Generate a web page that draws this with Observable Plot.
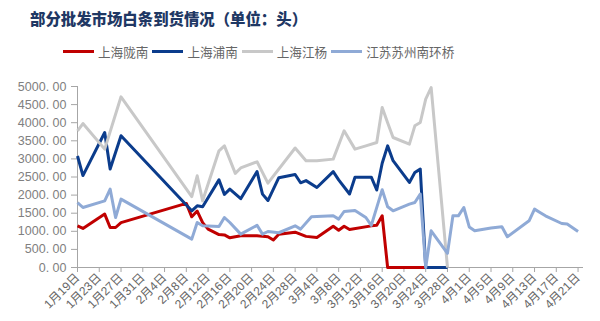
<!DOCTYPE html>
<html>
<head>
<meta charset="utf-8">
<script src="https://cdn.jsdelivr.net/npm/d3@7"></script>
<script src="https://cdn.jsdelivr.net/npm/@observablehq/plot@0.6"></script>
<style>
  body { margin: 0; background: #fff; }
  #wrap { width: 600px; height: 321px; position: relative; overflow: hidden; background: #fff; }
  #title { position: absolute; left: 30px; top: 7px; font-family: "Noto Sans CJK SC", sans-serif; font-size: 15.4px; font-weight: 900; color: #1f3864; white-space: nowrap; }
  #legend { position: absolute; left: 63px; top: 42px; height: 18px; display: flex; align-items: center; font-family: "Noto Sans CJK SC", sans-serif; font-size: 12.6px; color: #666; white-space: nowrap; }
  .item { display: flex; align-items: center; margin-right: 4px; }
  .sw { width: 31px; height: 3px; margin-right: 4px; }
  #chart { position: absolute; left: 0; top: 66px; }
</style>
</head>
<body>
<div id="wrap">
  <div id="title">部分批发市场白条到货情况（单位：头）</div>
  <div id="legend"></div>
  <div id="chart"></div>
</div>
<script>
// ---- data (year 2022, dates as MM-DD) ----
const seriesNames = ["上海陇南", "上海浦南", "上海江杨", "江苏苏州南环桥"];
const seriesColors = ["#c00000", "#0b3c8c", "#c8c8c8", "#8faad6"];

const longnanDates = ["01-19","01-20","01-24","01-25","01-26","01-27","02-08","02-09","02-10","02-11","02-12","02-14","02-15","02-16","02-18","02-21","02-22","02-23","02-24","02-25","02-28","03-02","03-04","03-07","03-08","03-09","03-10","03-14","03-15","03-16","03-17","03-24"];
const longnanValues = [1150,1080,1475,1105,1105,1240,1770,1400,1560,1240,1060,910,900,820,875,875,860,850,760,920,975,860,830,1140,1030,1140,1050,1150,1170,1430,0,0];

const punanDates = ["01-19","01-20","01-24","01-25","01-27","02-09","02-10","02-11","02-14","02-15","02-16","02-18","02-21","02-22","02-23","02-25","02-28","03-01","03-02","03-04","03-07","03-08","03-10","03-11","03-14","03-15","03-16","03-17","03-18","03-21","03-22","03-23","03-24","03-28"];
const punanValues = [3080,2540,3730,2720,3640,1566,1704,1676,2420,2020,2165,1900,2650,2027,1850,2480,2570,2340,2400,2210,2650,2420,2030,2495,2495,2140,2880,3360,2950,2350,2624,2718,0,0];

const jiangyangDates = ["01-19","01-20","01-24","01-27","02-09","02-10","02-11","02-14","02-15","02-17","02-18","02-21","02-23","02-28","03-02","03-04","03-07","03-09","03-11","03-13","03-15","03-16","03-17","03-18","03-21","03-22","03-23","03-24","03-25","03-28"];
const jiangyangValues = [3776,3977,3270,4715,1960,2533,1842,3223,3361,2600,2750,2920,2330,3300,2950,2947,2994,3776,3270,3361,3453,4420,4000,3591,3408,3914,4005,4651,4972,0];

const nanhuanqiaoDates = ["01-19","01-20","01-24","01-25","01-26","01-27","02-09","02-10","02-11","02-14","02-15","02-16","02-18","02-21","02-22","02-23","02-25","02-28","03-01","03-03","03-07","03-08","03-09","03-11","03-13","03-14","03-16","03-17","03-18","03-21","03-22","03-23","03-24","03-25","03-28","03-29","03-30","03-31","04-01","04-02","04-05","04-07","04-08","04-12","04-13","04-14","04-15","04-18","04-19","04-21"];
const nanhuanqiaoValues = [1795,1657,1842,2165,1381,1889,784,1243,1152,1130,1381,1243,922,1165,922,994,960,1152,1060,1400,1428,1336,1547,1575,1381,1165,2150,1680,1566,1751,1795,2027,0,1013,390,1428,1428,1657,1120,1013,1090,1124,848,1290,1613,1519,1428,1215,1199,994];

const yTicks = [0,500,1000,1500,2000,2500,3000,3500,4000,4500,5000];
const axisStart = "01-19", axisEnd = "04-22", tickStepDays = 4;

// ---- build ----
const toDate = s => new Date("2022-" + s + "T00:00:00Z");
const seriesDates = [longnanDates, punanDates, jiangyangDates, nanhuanqiaoDates];
const seriesValues = [longnanValues, punanValues, jiangyangValues, nanhuanqiaoValues];
const data = seriesNames.flatMap((name, k) =>
  seriesDates[k].map((d, i) => ({name, date: toDate(d), value: seriesValues[k][i]})));

const start = toDate(axisStart), end = toDate(axisEnd);
const xTicks = [];
for (let t = start.getTime(); t <= end.getTime(); t += tickStepDays * 86400000) xTicks.push(new Date(t));

// legend
const legend = document.getElementById("legend");
seriesNames.forEach((n, i) => {
  const it = document.createElement("div");
  it.className = "item";
  it.innerHTML = `<span class="sw" style="background:${seriesColors[i]}"></span><span>${n}</span>`;
  legend.appendChild(it);
});

const axisColor = "#a6a6a6";
const chart = Plot.plot({
  width: 600,
  height: 255,
  marginTop: 20,
  marginBottom: 54,
  marginLeft: 77,
  marginRight: 17,
  style: {background: "white", fontFamily: "'Liberation Sans', Arial, sans-serif", fontSize: "12px", color: "#7f7f7f"},
  x: {type: "utc", domain: [start, end], label: null},
  y: {domain: [0, 5000], label: null},
  color: {domain: seriesNames, range: seriesColors},
  marks: [
    Plot.axisY({ticks: yTicks, tickFormat: v => v.toFixed(2).replace(".", ". "), tickSize: 6, tickPadding: 5, stroke: axisColor, fill: "#808080", fontSize: 12.5, label: null}),
    Plot.axisX({ticks: xTicks, tickFormat: d => `${d.getUTCMonth() + 1}月${d.getUTCDate()}日`, tickRotate: -45, tickSize: 5, tickPadding: 3, stroke: axisColor, fill: "#666", fontSize: 12, fontFamily: "'Liberation Sans', 'Noto Sans CJK SC', sans-serif", label: null}),
    Plot.ruleX([start], {stroke: axisColor}),
    Plot.ruleY([0], {stroke: axisColor}),
    Plot.line(data, {x: "date", y: "value", z: "name", stroke: "name", strokeWidth: 3, strokeLinejoin: "round", strokeLinecap: "butt"})
  ]
});
document.getElementById("chart").appendChild(chart);
</script>
</body>
</html>
